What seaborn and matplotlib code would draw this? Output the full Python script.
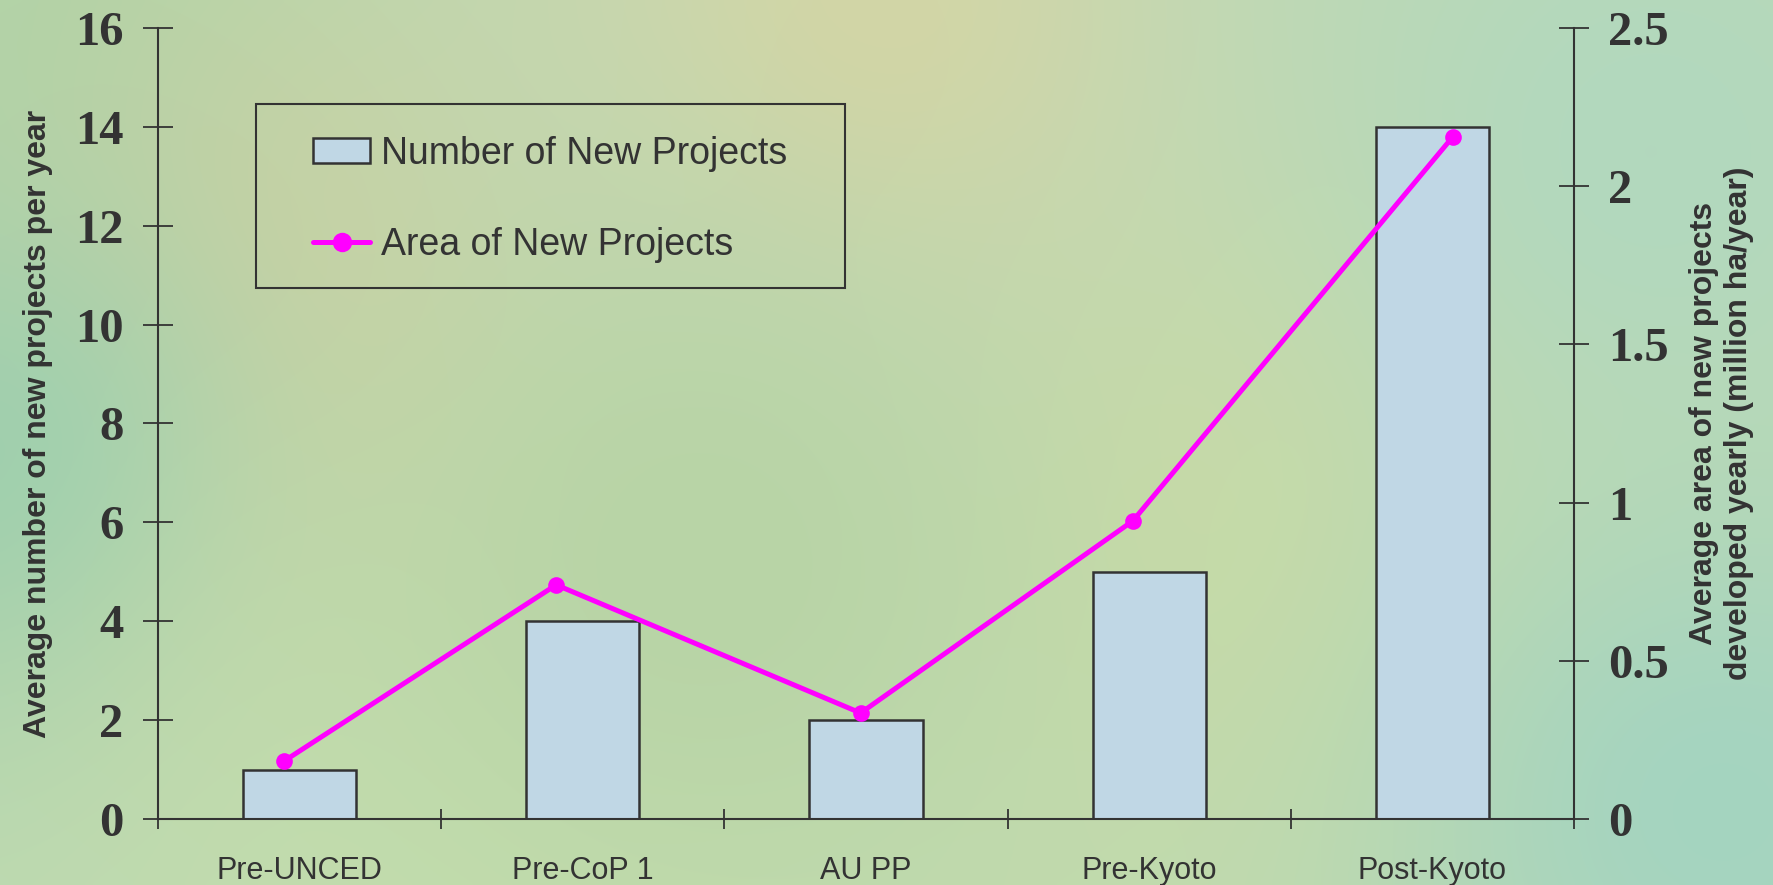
import numpy as np
import pandas as pd
import matplotlib
matplotlib.use("Agg")
import matplotlib.pyplot as plt
import seaborn as sns
from matplotlib.patches import Rectangle, Patch
from matplotlib.lines import Line2D

# ---------------- data ----------------
periods = ["Pre-UNCED", "Pre-CoP 1", "AU PP", "Pre-Kyoto", "Post-Kyoto"]
new_projects = [1, 4, 2, 5, 14]                     # left axis
new_area = [0.183, 0.740, 0.335, 0.942, 2.156]      # right axis (million ha/year)
area_xpos = [-0.055, 0.906, 1.981, 2.942, 4.072]    # where the line points sit (category units)
left_ticks = [0, 2, 4, 6, 8, 10, 12, 14, 16]
right_ticks = [0, 0.5, 1, 1.5, 2, 2.5]
right_ticklabels = ["0", "0.5", "1", "1.5", "2", "2.5"]

# ---------------- style ----------------
sns.set_theme(style="white")
plt.rcParams["font.family"] = ["Liberation Sans", "DejaVu Sans"]
TXT = "#333333"
BAR = "#C0D7E5"
MAG = "#FF00FF"

W, H = 1773, 885
fig = plt.figure(figsize=(W / 100, H / 100), dpi=100)

# soft mottled green background
bg = fig.add_axes([0, 0, 1, 1], zorder=-5)
yy, xx = np.mgrid[0:H // 3, 0:W // 3] * 3.0
img = np.zeros((H // 3, W // 3, 3))
img[:] = np.array([190, 218, 178]) / 255
blobs = [  # (x, y, radius, rgb)
    (40, 40, 260, (176, 212, 168)),
    (330, 360, 240, (210, 206, 156)),
    (10, 470, 200, (156, 206, 174)),
    (960, 220, 300, (176, 216, 202)),
    (1300, 520, 320, (204, 220, 164)),
    (1720, 800, 260, (164, 212, 192)),
    (520, 820, 300, (196, 222, 174)),
    (880, 20, 250, (212, 214, 166)),
    (1650, 150, 250, (178, 216, 190)),
    (700, 560, 250, (184, 212, 166)),
]
for bx, by, r, c in blobs:
    w = np.exp(-((xx - bx) ** 2 + (yy - by) ** 2) / (2 * r ** 2))[..., None]
    img = img * (1 - w) + (np.array(c) / 255) * w
bg.imshow(img, aspect="auto", extent=[0, 1, 0, 1], interpolation="bicubic")
bg.set_axis_off()

L, R, B, T = 158, 1574, 819, 28
ax = fig.add_axes([L / W, 1 - B / H, (R - L) / W, (B - T) / H])
ax.set_facecolor("none")

df = pd.DataFrame({"period": periods, "count": new_projects})
sns.barplot(data=df, x="period", y="count", ax=ax, color=BAR, width=0.4,
            edgecolor=TXT, linewidth=1.8, saturation=1)
ax.set_xlim(-0.5, 4.5)
ax.set_ylim(0, 16)
ax.set_yticks(left_ticks)
ax.set_xlabel("")
ax.set_ylabel("Average number of new projects per year", fontsize=23,
              fontweight="bold", color=TXT, labelpad=16)
for s in ["top", "right"]:
    ax.spines[s].set_visible(False)
for s in ["left", "bottom"]:
    ax.spines[s].set_color(TXT)
    ax.spines[s].set_linewidth(1.5)

ax.tick_params(axis="y", direction="inout", length=21.6, width=1.3, color=TXT,
               pad=14, labelsize=35, labelcolor=TXT, left=True)
for t in ax.get_yticklabels():
    t.set_fontfamily("Liberation Serif")
    t.set_fontweight("bold")
ax.tick_params(axis="x", which="major", length=0, pad=26.5, labelsize=22, labelcolor=TXT)
ax.set_xticks(np.arange(-0.5, 5.0, 1.0), minor=True)
ax.tick_params(axis="x", which="minor", direction="inout", length=15, width=1.3,
               color=TXT, bottom=True)

ax2 = ax.twinx()
ax2.set_facecolor("none")
sns.lineplot(x=area_xpos, y=new_area, ax=ax2, color=MAG, linewidth=3.6,
             marker="o", markersize=12, markeredgewidth=0, sort=False)
ax2.set_ylim(0, 2.5)
ax2.set_yticks(right_ticks)
ax2.set_yticklabels(right_ticklabels)
ax2.grid(False)
ax.grid(False)
for s in ["top", "left", "bottom"]:
    ax2.spines[s].set_visible(False)
ax2.spines["right"].set_color(TXT)
ax2.spines["right"].set_linewidth(1.5)
ax2.tick_params(axis="y", direction="inout", length=21.6, width=1.3, color=TXT,
                pad=14, labelsize=35, labelcolor=TXT, right=True)
for t in ax2.get_yticklabels():
    t.set_fontfamily("Liberation Serif")
    t.set_fontweight("bold")
ax2.set_ylabel("Average area of new projects\ndeveloped yearly (million ha/year)",
               fontsize=23, fontweight="bold", color=TXT, labelpad=14,
               linespacing=1.25)

# legend
handles = [
    Patch(facecolor=BAR, edgecolor=TXT, linewidth=1.8),
    Line2D([0], [0], color=MAG, linewidth=3.6, marker="o", markersize=14,
           markeredgewidth=0),
]
leg = fig.legend(handles, ["Number of New Projects", "Area of New Projects"],
                 loc="upper left", bbox_to_anchor=(313 / W, 1 - 136 / H),
                 bbox_transform=fig.transFigure, frameon=False, fontsize=27,
                 borderpad=0, borderaxespad=0, handlelength=1.52,
                 handleheight=0.64, handletextpad=0.3, labelspacing=1.47)
for t in leg.get_texts():
    t.set_color(TXT)
fig.add_artist(Rectangle((256 / W, 1 - 288 / H), (845 - 256) / W, (288 - 104) / H,
                         transform=fig.transFigure, fill=False, edgecolor=TXT,
                         linewidth=1.5))

fig.savefig("out.png", dpi=100)
